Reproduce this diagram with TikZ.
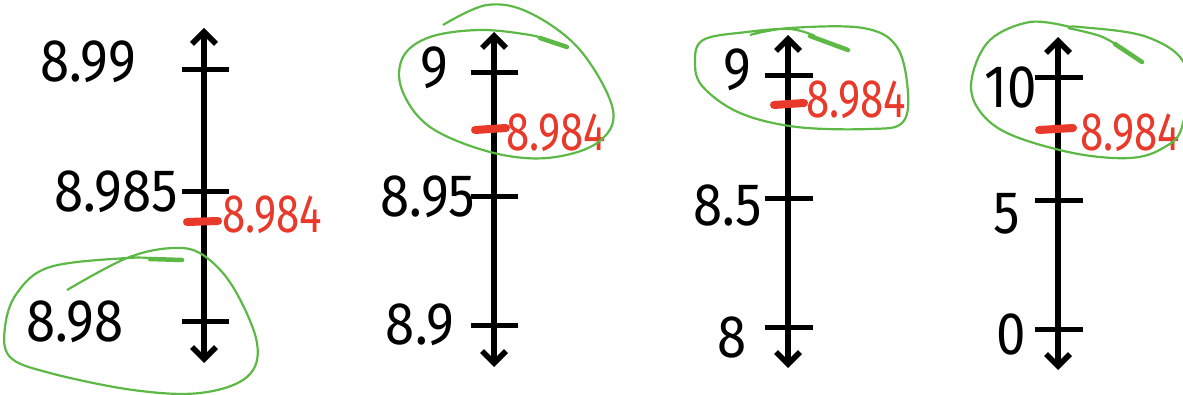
\documentclass[tikz,border=0pt]{standalone}
\usepackage{fontspec}
\setmainfont{Fira Sans}
\usetikzlibrary{arrows.meta}
\definecolor{penred}{HTML}{E8392A}
\definecolor{pengreen}{HTML}{5DB946}
\tikzset{
  axis/.style={line width=5.5pt, {Straight Barb[length=12pt,width=24pt]}-{Straight Barb[length=12pt,width=24pt]}},
  tickmark/.style={line width=5pt},
  redmark/.style={penred, line width=8pt, line cap=round},
  lbl/.style={inner sep=0pt, font=\fontsize{60}{60}\selectfont, xscale=0.88},
  redlbl/.style={inner sep=0pt, font=\fontsize{54}{54}\selectfont, text=penred, xscale=0.78},
  loop/.style={pengreen, line width=2.2pt},
  loopend/.style={pengreen, line width=4.5pt, line cap=round}
}
\begin{document}
\begin{tikzpicture}[x=1pt,y=-1pt]
\useasboundingbox (0,0) rectangle (1183,395);
% ---------- line 1 ----------
\coordinate (t1) at (204,28); \coordinate (b1) at (204,363);
\draw[axis] (b1) -- (t1);
\coordinate (a1l) at (182,70); \coordinate (a1r) at (229,70);
\coordinate (b1l) at (182,192); \coordinate (b1r) at (229,192);
\coordinate (c1l) at (182,321); \coordinate (c1r) at (229,321);
\draw[tickmark] (a1l) -- (a1r); \draw[tickmark] (b1l) -- (b1r); \draw[tickmark] (c1l) -- (c1r);
\coordinate (r1l) at (187,222); \coordinate (r1r) at (218,221);
\draw[redmark] (r1l) -- (r1r);
\node[lbl] (l11) at (88,62) {8.99};
\node[lbl] (l12) at (116,192) {8.985};
\node[lbl] (l13) at (75,322) {8.98};
\node[redlbl] (r1) at (272,215) {8.984};
\draw[loop] plot[smooth, tension=0.6] coordinates {(67,290) (127,258) (173,248) (203,255) (233,287) (257,343) (247,377) (200,393) (133,390) (50,373) (10,357) (5,327) (17,293) (50,267) (127,258) (160,259)};
\coordinate (g1a) at (150,259); \coordinate (g1b) at (182,260);
\draw[loopend] (g1a) -- (g1b);
% ---------- line 2 ----------
\coordinate (t2) at (494,32); \coordinate (b2) at (494,367);
\draw[axis] (b2) -- (t2);
\coordinate (a2l) at (471,73); \coordinate (a2r) at (518,73);
\coordinate (b2l) at (471,197); \coordinate (b2r) at (518,197);
\coordinate (c2l) at (471,325); \coordinate (c2r) at (518,325);
\draw[tickmark] (a2l) -- (a2r); \draw[tickmark] (b2l) -- (b2r); \draw[tickmark] (c2l) -- (c2r);
\coordinate (r2l) at (475,130); \coordinate (r2r) at (506,128);
\draw[redmark] (r2l) -- (r2r);
\node[lbl] (l21) at (434,68) {9};
\node[lbl] (l22) at (428,197) {8.95};
\node[lbl] (l23) at (420,325) {8.9};
\node[redlbl] (r2) at (556,133) {8.984};
\draw[loop] plot[smooth, tension=0.6] coordinates {(443,25) (487,5) (530,13) (580,50) (613,110) (597,143) (547,158) (490,152) (430,127) (402,90) (403,57) (430,37) (480,30) (530,35) (550,41)};
\coordinate (g2a) at (540,38); \coordinate (g2b) at (567,47);
\draw[loopend] (g2a) -- (g2b);
% ---------- line 3 ----------
\coordinate (t3) at (788,35); \coordinate (b3) at (788,368);
\draw[axis] (b3) -- (t3);
\coordinate (a3l) at (765,76); \coordinate (a3r) at (813,76);
\coordinate (b3l) at (765,199); \coordinate (b3r) at (813,199);
\coordinate (c3l) at (765,327); \coordinate (c3r) at (813,327);
\draw[tickmark] (a3l) -- (a3r); \draw[tickmark] (b3l) -- (b3r); \draw[tickmark] (c3l) -- (c3r);
\coordinate (r3l) at (774,105); \coordinate (r3r) at (804,103);
\draw[redmark] (r3l) -- (r3r);
\node[lbl] (l31) at (737,70) {9};
\node[lbl] (l32) at (728,205) {8.5};
\node[lbl] (l33) at (732,337) {8};
\node[redlbl] (r3) at (856,100) {8.984};
\draw[loop] plot[smooth, tension=0.6] coordinates {(750,35) (790,28) (863,28) (897,47) (908,93) (902,123) (870,129) (797,127) (740,113) (703,87) (695,63) (703,40) (747,32) (790,29) (815,36)};
\coordinate (g3a) at (810,36); \coordinate (g3b) at (848,50);
\draw[loopend] (g3a) -- (g3b);
% ---------- line 4 ----------
\coordinate (t4) at (1058,37); \coordinate (b4) at (1058,370);
\draw[axis] (b4) -- (t4);
\coordinate (a4l) at (1035,78); \coordinate (a4r) at (1083,78);
\coordinate (b4l) at (1035,201); \coordinate (b4r) at (1083,201);
\coordinate (c4l) at (1035,329); \coordinate (c4r) at (1083,329);
\draw[tickmark] (a4l) -- (a4r); \draw[tickmark] (b4l) -- (b4r); \draw[tickmark] (c4l) -- (c4r);
\coordinate (r4l) at (1039,130); \coordinate (r4r) at (1073,128);
\draw[redmark] (r4l) -- (r4r);
\node[lbl] (l41) at (1011,87) {10};
\node[lbl] (l42) at (1007,214) {5};
\node[lbl] (l43) at (1011,334) {0};
\node[redlbl] (r4) at (1130,133) {8.984};
\draw[loop] plot[smooth, tension=0.6] coordinates {(1068,28) (1100,36) (1120,47)};
\draw[loop] plot[smooth, tension=0.6] coordinates {(1070,27) (1030,22) (990,40) (972,77) (977,107) (1007,133) (1073,153) (1130,158) (1163,148) (1182,127) (1186,67) (1147,37) (1080,27) (1068,28)};
\coordinate (g4a) at (1115,44); \coordinate (g4b) at (1142,62);
\draw[loopend] (g4a) -- (g4b);
\end{tikzpicture}
\end{document}
